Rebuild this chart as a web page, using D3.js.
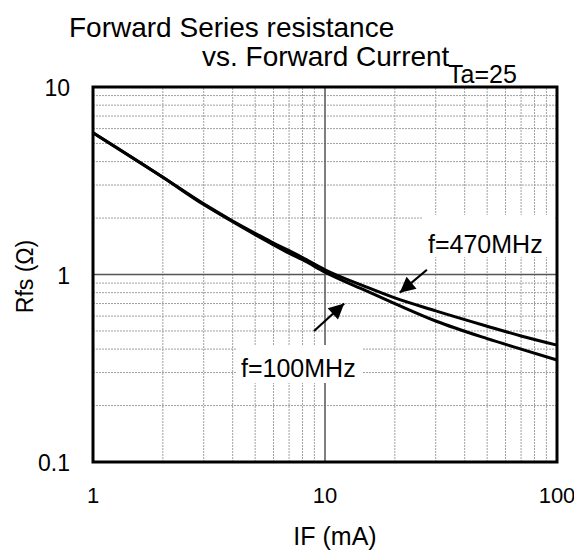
<!DOCTYPE html>
<html>
<head>
<meta charset="utf-8">
<script src="https://cdn.jsdelivr.net/npm/d3@7"></script>
<style>
  body { margin: 0; background: #fff; }
  text { font-family: "Liberation Sans", Arial, sans-serif; fill: #000; }
</style>
</head>
<body>
<div id="chart"></div>
<script>
// forward current (mA) sample points
const currentMA = [1, 2, 3, 4, 5, 6, 7, 8, 10, 15, 20, 30, 50, 70, 100];
// series resistance (ohm) for each frequency
const rfs470 = [5.7, 3.3, 2.38, 1.93, 1.66, 1.47, 1.34, 1.23, 1.06, 0.86, 0.75, 0.64, 0.53, 0.47, 0.42];
const rfs100 = [5.7, 3.3, 2.36, 1.91, 1.63, 1.44, 1.30, 1.20, 1.03, 0.82, 0.70, 0.565, 0.455, 0.40, 0.35];

const xTicks = [1, 10, 100];
const yTicks = [0.1, 1, 10];
const xTickLabels = ['1', '10', '100'];
const yTickLabels = ['0.1', '1', '10'];

// annotation arrows in data units: [tail IF, tail Rfs, tip IF, tip Rfs]
const arrow470 = [27.5, 1.06, 21.0, 0.80];
const arrow100 = [8.97, 0.50, 12.1, 0.70];

const width = 574;
const height = 553;
const margin = { top: 87, right: 17, bottom: 91, left: 93 };

const svg = d3.select('#chart').append('svg')
  .attr('width', width)
  .attr('height', height);

const x = d3.scaleLog().domain([1, 100]).range([margin.left, width - margin.right]);
const y = d3.scaleLog().domain([0.1, 10]).range([height - margin.bottom, margin.top]);

// minor grid (2..9 in every decade)
const minorX = [];
const minorY = [];
[1, 10].forEach((d) => { for (let k = 2; k <= 9; k++) minorX.push(d * k); });
[0.1, 1].forEach((d) => { for (let k = 2; k <= 9; k++) minorY.push(d * k); });

const grid = svg.append('g');
grid.selectAll('.vx').data(minorX).enter().append('line')
  .attr('x1', (d) => x(d)).attr('x2', (d) => x(d))
  .attr('y1', y(0.1)).attr('y2', y(10))
  .attr('stroke', '#a0a0a0').attr('stroke-width', 1).attr('stroke-dasharray', '2,1');
grid.selectAll('.hy').data(minorY).enter().append('line')
  .attr('x1', x(1)).attr('x2', x(100))
  .attr('y1', (d) => y(d)).attr('y2', (d) => y(d))
  .attr('stroke', '#a0a0a0').attr('stroke-width', 1).attr('stroke-dasharray', '2,1');

// white boxes behind the labels hide the grid
svg.append('rect').attr('x', 423).attr('y', 215).attr('width', 131).attr('height', 42).attr('fill', '#fff');
svg.append('rect').attr('x', 236).attr('y', 345).attr('width', 127).attr('height', 38).attr('fill', '#fff');

// major grid
grid.append('line')
  .attr('x1', x(10)).attr('x2', x(10)).attr('y1', y(0.1)).attr('y2', y(10))
  .attr('stroke', '#555').attr('stroke-width', 1.5);
grid.append('line')
  .attr('x1', x(1)).attr('x2', x(100)).attr('y1', y(1)).attr('y2', y(1))
  .attr('stroke', '#555').attr('stroke-width', 1.5);

// curves
const line = d3.line()
  .x((d) => x(d[0]))
  .y((d) => y(d[1]))
  .curve(d3.curveMonotoneX);

[rfs470, rfs100].forEach((series) => {
  svg.append('path')
    .datum(currentMA.map((c, i) => [c, series[i]]))
    .attr('d', line)
    .attr('fill', 'none')
    .attr('stroke', '#000')
    .attr('stroke-width', 3);
});

// frame
svg.append('rect')
  .attr('x', x(1)).attr('y', y(10))
  .attr('width', x(100) - x(1)).attr('height', y(0.1) - y(10))
  .attr('fill', 'none').attr('stroke', '#000').attr('stroke-width', 3);

// arrows
svg.append('defs').append('marker')
  .attr('id', 'head')
  .attr('viewBox', '0 0 10 10')
  .attr('refX', 10).attr('refY', 5)
  .attr('markerWidth', 8).attr('markerHeight', 7)
  .attr('markerUnits', 'strokeWidth')
  .attr('orient', 'auto')
  .append('path').attr('d', 'M0,0L10,5L0,10z').attr('fill', '#000');

[arrow470, arrow100].forEach((a) => {
  svg.append('line')
    .attr('x1', x(a[0])).attr('y1', y(a[1]))
    .attr('x2', x(a[2])).attr('y2', y(a[3]))
    .attr('stroke', '#000').attr('stroke-width', 2.2)
    .attr('marker-end', 'url(#head)');
});

// labels
svg.append('text').attr('x', 428).attr('y', 253).attr('font-size', 25).text('f=470MHz');
svg.append('text').attr('x', 241).attr('y', 377).attr('font-size', 25).text('f=100MHz');

// tick labels
svg.selectAll('.xt').data(xTicks).enter().append('text')
  .attr('x', (d) => x(d)).attr('y', 503)
  .attr('text-anchor', 'middle').attr('font-size', 22)
  .text((d, i) => xTickLabels[i]);
svg.selectAll('.yt').data(yTicks).enter().append('text')
  .attr('x', 70).attr('y', (d) => y(d) + 9)
  .attr('text-anchor', 'end').attr('font-size', 23)
  .text((d, i) => yTickLabels[i]);

// axis titles
svg.append('text').attr('x', 335).attr('y', 545)
  .attr('text-anchor', 'middle').attr('font-size', 25).text('IF (mA)');
svg.append('text')
  .attr('transform', `translate(33,${y(1) + 2}) rotate(-90)`)
  .attr('text-anchor', 'middle').attr('font-size', 23).text('Rfs (Ω)');

// chart title
svg.append('text').attr('x', 69).attr('y', 37).attr('font-size', 28).text('Forward Series resistance');
svg.append('text').attr('x', 202).attr('y', 66).attr('font-size', 28).text('vs. Forward Current');
svg.append('text').attr('x', 448).attr('y', 83).attr('font-size', 25).text('Ta=25');
</script>
</body>
</html>
